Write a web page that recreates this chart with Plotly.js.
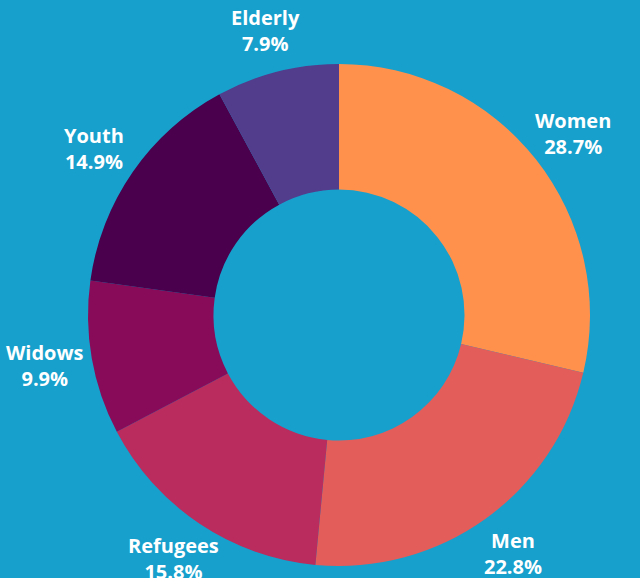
<!DOCTYPE html>
<html>
<head>
<meta charset="utf-8">
<script src="https://cdn.plot.ly/plotly-3.0.1.min.js"></script>
<style>html,body{margin:0;padding:0;background:#17a0cc;}</style>
</head>
<body>
<div id="chart" style="width:640px;height:578px;"></div>
<script>
const categories = ["Women", "Men", "Refugees", "Widows", "Youth", "Elderly"];
const shares = [28.7, 22.8, 15.8, 9.9, 14.9, 7.9];
const sliceColors = ["#ff914d", "#e35d5a", "#b92c5d", "#880b5a", "#4a004c", "#523c8c"];

const W = 640, H = 578;
const cx = 339, cy = 315, R = 251;
const labelDistX = 298, labelDistY = 293;

const trace = {
  type: "pie",
  labels: categories,
  values: shares,
  sort: false,
  direction: "clockwise",
  rotation: 0,
  hole: 0.5,
  marker: {colors: sliceColors, line: {width: 0}},
  textinfo: "none",
  domain: {
    x: [(cx - R) / W, (cx + R) / W],
    y: [(H - cy - R) / H, (H - cy + R) / H]
  },
  showlegend: false,
  hoverinfo: "none"
};

// label positions derived from the data (slice mid-angles)
const total = shares.reduce((a, b) => a + b, 0);
let cum = 0;
const annotations = categories.map((name, i) => {
  const mid = (cum + shares[i] / 2) / total * 2 * Math.PI;
  cum += shares[i];
  const px = cx + labelDistX * Math.sin(mid);
  const py = cy - labelDistY * Math.cos(mid);
  return {
    xref: "paper", yref: "paper",
    x: px / W, y: 1 - py / H,
    xanchor: "center", yanchor: "middle",
    showarrow: false,
    align: "center",
    text: "<b>" + name + "</b><br><b>" + shares[i].toFixed(1) + "%</b>",
    font: {family: "Open Sans", size: 20, color: "#ffffff"}
  };
});

const layout = {
  width: W, height: H,
  margin: {l: 0, r: 0, t: 0, b: 0},
  paper_bgcolor: "#17a0cc",
  plot_bgcolor: "#17a0cc",
  showlegend: false,
  annotations: annotations
};

Plotly.newPlot("chart", [trace], layout, {displayModeBar: false, staticPlot: true});
</script>
</body>
</html>
